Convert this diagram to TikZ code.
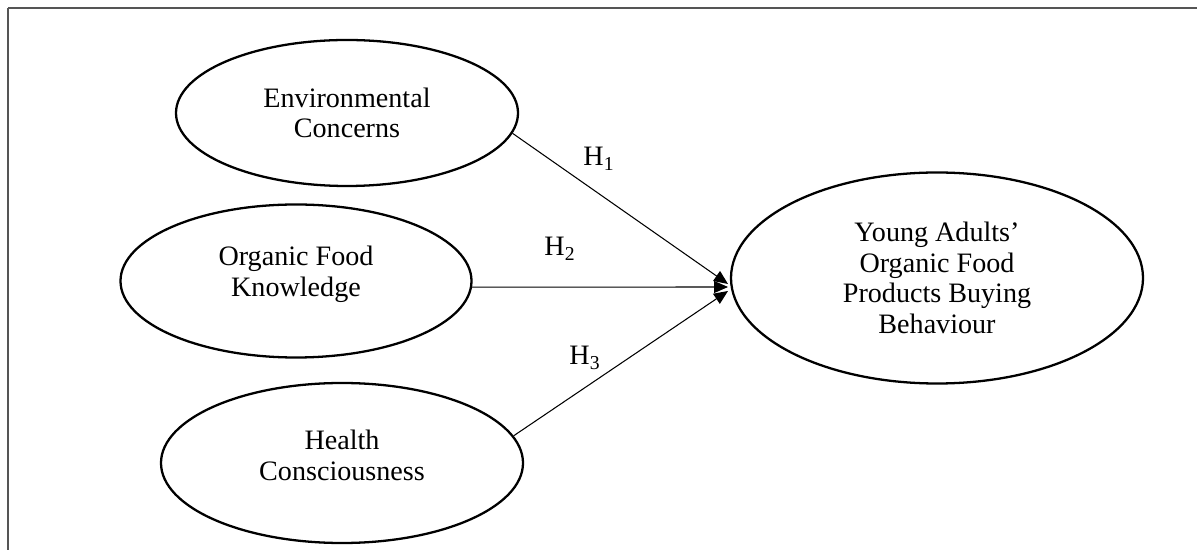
\documentclass[tikz,border=0pt]{standalone}
\usepackage{fontspec}
\setmainfont{Liberation Serif}
\usetikzlibrary{shapes.geometric,arrows.meta}
\definecolor{rule1}{HTML}{555555}

\tikzset{
  cons/.style={ellipse,draw,line width=1.3pt,align=center,inner sep=0pt,font=\fontsize{16}{17.5}\selectfont},
  hyp/.style={font=\fontsize{16}{17.5}\selectfont},
  path1/.style={line width=0.6pt,-{Triangle[length=2.8mm,width=2.4mm]}}
}

\begin{document}
\begin{tikzpicture}
\useasboundingbox (0,0) rectangle (23.94,11);

\draw[line width=1.1pt,color=rule1] (0.16,10.84) -- (23.94,10.84);
\draw[line width=0.7pt,color=rule1] (0.16,10.84) -- (0.16,0);

\node (env) at (6.94,8.74)[cons,minimum width=6.84cm,minimum height=2.92cm]{Environmental\\Concerns};
\node (kno) at (5.92,5.38)[cons,minimum width=7.02cm,minimum height=3.06cm,text depth=0.38cm]{Organic Food\\Knowledge};
\node (hea) at (6.84,1.74)[cons,minimum width=7.24cm,minimum height=3.2cm,text depth=0.32cm]{Health\\Consciousness};
\node (beh) at (18.74,5.44)[cons,minimum width=8.24cm,minimum height=4.22cm]{Young Adults’\\Organic Food\\Products Buying\\Behaviour};

% the three tips meet just left of the outcome
\coordinate (hub1) at (14.56,5.32);
\coordinate (hub2) at (14.56,5.26);
\coordinate (hub3) at (14.56,5.18);
\draw[path1] (env.-7) -- (hub1);
\draw[path1] (kno.-2) -- (hub2);
\draw[path1] (hea.9) -- (hub3);

\node (h1) at (11.98,7.82)[hyp]{H\textsubscript{1}};
\node (h2) at (11.2,6.02)[hyp]{H\textsubscript{2}};
\node (h3) at (11.7,3.84)[hyp]{H\textsubscript{3}};

\end{tikzpicture}
\end{document}
